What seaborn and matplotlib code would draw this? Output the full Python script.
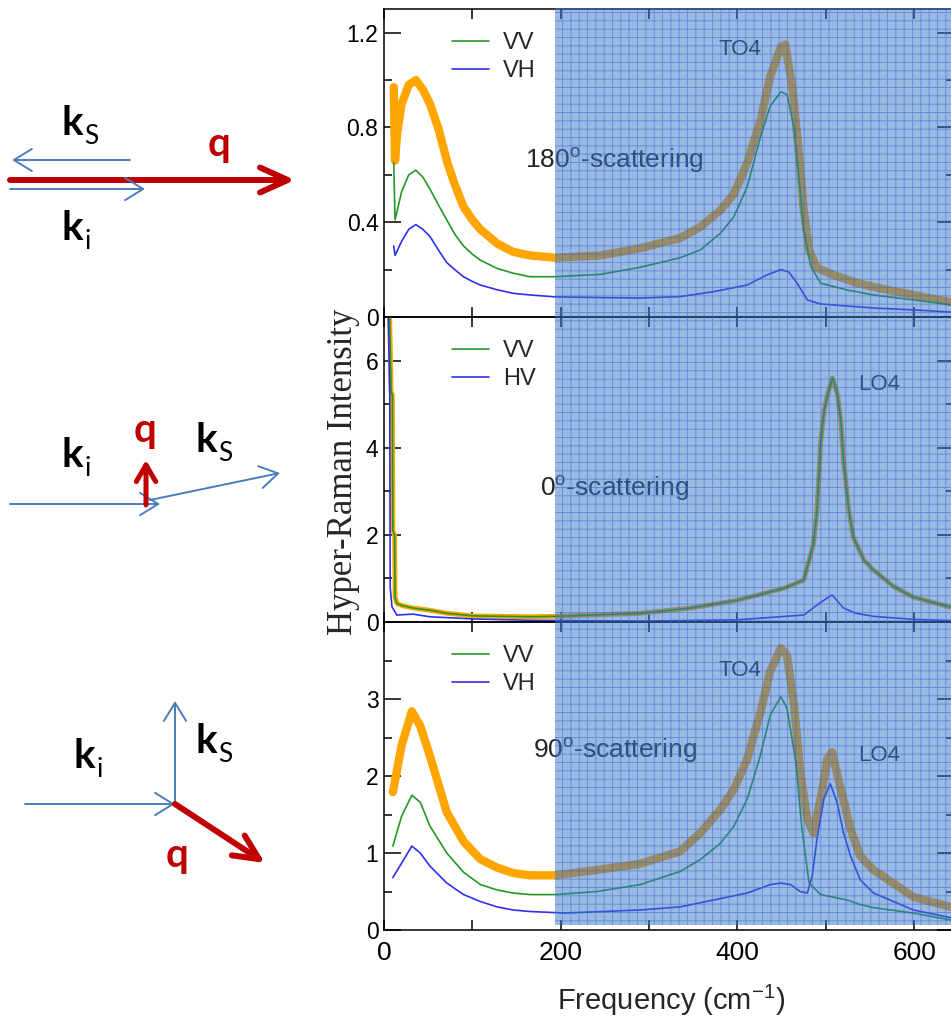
import numpy as np
import pandas as pd
import matplotlib
matplotlib.use("Agg")
import matplotlib.pyplot as plt
import seaborn as sns
from matplotlib.patches import Rectangle
from matplotlib.ticker import MultipleLocator, FixedLocator

# ---------------- data ----------------
# 180 degree scattering (top)
freq_180 = [11, 12.5, 15, 20, 28, 36, 44, 52, 62, 71, 80, 90, 100, 109, 128, 146, 165, 194,
            245, 290, 335, 358, 381, 396, 411, 426, 437, 449, 454, 462, 469.5, 475, 481, 490,
            509, 536, 554, 599, 645]
sum_180 = [0.97, 0.66, 0.78, 0.90, 0.98, 1.00, 0.96, 0.90, 0.79, 0.66, 0.56, 0.465, 0.41, 0.37,
           0.31, 0.275, 0.26, 0.25, 0.26, 0.29, 0.333, 0.38, 0.452, 0.52, 0.65, 0.83, 1.015,
           1.14, 1.15, 0.97, 0.69, 0.452, 0.283, 0.207, 0.177, 0.143, 0.127, 0.093, 0.06]
freq_180_vv = [11, 12.5, 15, 20, 28, 36, 44, 52, 62, 71, 80, 90, 100, 109, 128, 146, 165, 194,
               245, 290, 335, 358, 381, 396, 411, 426, 437, 449, 456, 464, 469.5, 475, 483, 494,
               524, 554, 599, 645]
vv_180 = [0.65, 0.41, 0.45, 0.53, 0.60, 0.62, 0.59, 0.54, 0.47, 0.41, 0.35, 0.30, 0.265, 0.24,
          0.205, 0.185, 0.17, 0.17, 0.18, 0.21, 0.25, 0.283, 0.355, 0.424, 0.55, 0.76, 0.89,
          0.95, 0.94, 0.80, 0.59, 0.37, 0.213, 0.143, 0.114, 0.093, 0.072, 0.05]
freq_180_vh = [11, 12.5, 15, 20, 28, 36, 44, 52, 62, 71, 80, 90, 100, 109, 128, 146, 165, 194,
               245, 290, 335, 373, 411, 433, 449, 458, 467.5, 479, 494, 532, 554, 599, 645]
vh_180 = [0.30, 0.26, 0.28, 0.32, 0.37, 0.39, 0.37, 0.34, 0.28, 0.23, 0.20, 0.17, 0.15, 0.135,
          0.115, 0.10, 0.093, 0.085, 0.082, 0.08, 0.086, 0.107, 0.135, 0.177, 0.20, 0.19,
          0.143, 0.072, 0.055, 0.044, 0.038, 0.03, 0.02]

# 0 degree scattering (middle)
freq_0 = [6, 8, 9.5, 10, 12, 12.5, 14.5, 20, 33, 52, 71, 101, 165, 194, 290, 347, 400, 452,
          475, 486, 490, 494, 498, 502, 507.6, 513, 517, 520, 526, 531, 543, 554, 577, 599, 645]
sum_0 = [7.5, 5.3, 5.2, 2.1, 2.0, 0.57, 0.43, 0.38, 0.32, 0.27, 0.20, 0.14, 0.12, 0.13, 0.20,
         0.32, 0.50, 0.77, 0.96, 1.80, 2.56, 4.10, 4.85, 5.23, 5.60, 5.23, 4.62, 3.70, 2.56,
         1.95, 1.42, 1.19, 0.81, 0.57, 0.32]
vv_0 = [7.5, 5.3, 5.2, 2.1, 2.0, 0.57, 0.43, 0.38, 0.32, 0.27, 0.20, 0.14, 0.12, 0.13, 0.20,
        0.32, 0.50, 0.77, 0.96, 1.80, 2.56, 4.10, 4.85, 5.23, 5.60, 5.23, 4.62, 3.70, 2.56,
        1.95, 1.42, 1.19, 0.81, 0.57, 0.32]
freq_0_hv = [4.5, 6.5, 7, 9, 14.5, 33, 52, 101, 165, 290, 400, 475, 494, 507, 520, 534, 554,
             599, 645]
hv_0 = [7.5, 5.2, 0.8, 0.35, 0.16, 0.18, 0.12, 0.07, 0.04, 0.02, 0.05, 0.16, 0.45, 0.62, 0.32,
        0.20, 0.13, 0.06, 0.03]

# 90 degree scattering (bottom)
freq_90 = [10, 20, 31.5, 41, 52, 71, 90, 109, 128, 146, 165, 194, 241, 290, 335, 358, 381,
           396, 411, 426, 437, 449, 456, 464, 471, 479, 486, 494, 501.6, 507, 516, 528, 539,
           554, 599, 641]
sum_90 = [1.79, 2.40, 2.84, 2.65, 2.26, 1.53, 1.15, 0.92, 0.81, 0.74, 0.71, 0.71, 0.78, 0.86,
          1.02, 1.26, 1.57, 1.83, 2.22, 2.83, 3.36, 3.66, 3.57, 2.92, 2.05, 1.44, 1.26, 1.70,
          2.22, 2.31, 1.87, 1.31, 0.96, 0.78, 0.43, 0.30]
freq_90_vv = [10, 20, 31.5, 41, 52, 71, 90, 109, 128, 146, 165, 194, 241, 290, 335, 358, 381,
              396, 411, 426, 437, 449, 456, 466, 473, 481, 494, 524, 539, 554, 599, 641]
vv_90 = [1.09, 1.48, 1.75, 1.66, 1.35, 1.00, 0.75, 0.59, 0.52, 0.48, 0.46, 0.46, 0.50, 0.59,
         0.76, 0.915, 1.13, 1.35, 1.70, 2.27, 2.79, 3.03, 2.88, 2.18, 1.31, 0.61, 0.46, 0.39,
         0.33, 0.29, 0.22, 0.13]
freq_90_vh = [10, 20, 31.5, 41, 52, 71, 90, 109, 128, 146, 165, 205, 290, 335, 373, 411, 437,
              449, 460, 471, 479, 484.5, 490, 497.6, 505, 512.6, 520, 528, 539, 554, 599, 641]
vh_90 = [0.68, 0.87, 1.09, 1.00, 0.83, 0.61, 0.46, 0.37, 0.30, 0.26, 0.24, 0.22, 0.26, 0.30,
         0.39, 0.48, 0.59, 0.61, 0.59, 0.50, 0.48, 0.70, 1.18, 1.70, 1.90, 1.66, 1.26, 0.96,
         0.65, 0.48, 0.26, 0.16]

legend_labels = [["VV", "VH"], ["VV", "HV"], ["VV", "VH"]]
scatter_labels = [r"180$^\mathrm{o}$-scattering", r"0$^\mathrm{o}$-scattering",
                  r"90$^\mathrm{o}$-scattering"]
x_ticks = [0, 200, 400, 600]

# ---------------- style ----------------
sns.set_style("ticks")
plt.rcParams['font.family'] = ['Liberation Sans', 'DejaVu Sans']
plt.rcParams['mathtext.fontset'] = 'custom'
plt.rcParams['mathtext.rm'] = 'Liberation Sans'
plt.rcParams['mathtext.it'] = 'Liberation Sans:italic'
plt.rcParams['mathtext.bf'] = 'Liberation Sans:bold'
plt.rcParams['hatch.linewidth'] = 0.7

ORANGE = '#ffa500'
GREEN = '#229a22'
BLUE = '#2f2ff0'

fig = plt.figure(figsize=(9.51, 10.25), dpi=100)

left = 384 / 951
width = (954 - 384) / 951
H = 1025
boxes = [(1 - 317 / H, (317 - 9) / H),
         (1 - 622 / H, (622 - 317) / H),
         (1 - 930 / H, (930 - 622) / H)]

panels = [
    dict(x_sum=freq_180, y_sum=sum_180, x_vv=freq_180_vv, y_vv=vv_180, x_b=freq_180_vh,
         y_b=vh_180, ylim=(0, 1.3), major=[0, 0.4, 0.8, 1.2], minor=0.2, lw_sum=6.0,
         ylabels=["0", "0.4", "0.8", "1.2"]),
    dict(x_sum=freq_0, y_sum=sum_0, x_vv=freq_0, y_vv=vv_0, x_b=freq_0_hv, y_b=hv_0,
         ylim=(0, 7.0), major=[0, 2, 4, 6], minor=1, lw_sum=3.5,
         ylabels=["0", "2", "4", "6"]),
    dict(x_sum=freq_90, y_sum=sum_90, x_vv=freq_90_vv, y_vv=vv_90, x_b=freq_90_vh, y_b=vh_90,
         ylim=(0, 4.0), major=[0, 1, 2, 3], minor=0.5, lw_sum=6.0,
         ylabels=["0", "1", "2", "3"]),
]

axes = []
for i, (p, (b, h)) in enumerate(zip(panels, boxes)):
    ax = fig.add_axes([left, b, width, h])
    axes.append(ax)
    sns.lineplot(x=p['x_sum'], y=p['y_sum'], ax=ax, color=ORANGE, lw=p['lw_sum'],
                 sort=False, estimator=None)
    sns.lineplot(x=p['x_vv'], y=p['y_vv'], ax=ax, color=GREEN, lw=1.2,
                 sort=False, estimator=None, label=legend_labels[i][0])
    sns.lineplot(x=p['x_b'], y=p['y_b'], ax=ax, color=BLUE, lw=1.2,
                 sort=False, estimator=None, label=legend_labels[i][1])
    ax.set_xlim(0, 645)
    ax.set_ylim(*p['ylim'])
    ax.xaxis.set_major_locator(FixedLocator(x_ticks))
    ax.xaxis.set_minor_locator(MultipleLocator(100))
    ax.yaxis.set_major_locator(FixedLocator(p['major']))
    ax.set_yticklabels(p['ylabels'])
    ax.yaxis.set_minor_locator(MultipleLocator(p['minor']))
    ax.tick_params(axis='both', which='both', direction='in', top=True, right=True,
                   width=1.1, colors='black')
    ax.tick_params(axis='y', which='major', length=12, labelsize=16.5, pad=4)
    ax.tick_params(axis='y', which='minor', length=6)
    ax.tick_params(axis='x', which='major', length=7.5, labelsize=19, pad=8)
    ax.tick_params(axis='x', which='minor', length=7.5)
    if i < 2:
        ax.set_xticklabels([])
    for s in ax.spines.values():
        s.set_linewidth(1.1)
        s.set_color('black')
    ax.set_xlabel('')
    ax.set_ylabel('')
    handles, labels = ax.get_legend_handles_labels()
    ax.legend(handles, labels, loc='upper left', bbox_to_anchor=(0.12, 0.925),
              frameon=False, fontsize=17, handlelength=1.55, handletextpad=0.6,
              labelspacing=0.25, borderpad=0, borderaxespad=0)
    ax.patch.set_alpha(0)

# annotations
axes[0].text(159, 0.66, scatter_labels[0], fontsize=19, va='center', ha='left')
axes[0].text(378, 1.13, "TO4", fontsize=16, va='center', ha='left')
axes[1].text(177, 3.06, scatter_labels[1], fontsize=19, va='center', ha='left')
axes[1].text(536, 5.46, "LO4", fontsize=16, va='center', ha='left')
axes[2].text(169, 2.33, scatter_labels[2], fontsize=19, va='center', ha='left')
axes[2].text(378, 3.37, "TO4", fontsize=16, va='center', ha='left')
axes[2].text(536, 2.26, "LO4", fontsize=16, va='center', ha='left')

fig.text(343 / 951, 1 - 472 / H, "Hyper-Raman Intensity", rotation=90, ha='center',
         va='center', family=['Liberation Serif', 'DejaVu Serif'], fontsize=25)
fig.text(671 / 951, 1 - 1000 / H, r"Frequency (cm$^{-1}$)", ha='center', va='center',
         fontsize=21)

# blue hatched overlay
ov = Rectangle((555 / 951, 1 - 925 / H), 1 - 555 / 951, (925 - 8) / H,
               transform=fig.transFigure, facecolor=(0.22, 0.46, 0.80, 0.5),
               edgecolor=(0.20, 0.40, 0.75, 0.5), hatch='++', lw=0, zorder=10)
fig.patches.append(ov)

# ---------------- scattering geometry diagrams ----------------
dax = fig.add_axes([0, 0, 1, 1], zorder=-1)
dax.set_xlim(0, 951)
dax.set_ylim(H, 0)
dax.axis('off')
KBLUE = '#4a7ebb'
KRED = '#c00000'
blue_style = '->,head_length=1.3,head_width=0.8'


def arrow(start, end, color, lw, style):
    dax.annotate('', xy=end, xytext=start,
                 arrowprops=dict(arrowstyle=style, color=color, lw=lw,
                                 shrinkA=0, shrinkB=0, mutation_scale=10))


def klabel(x, y, sub):
    dax.text(x, y, 'k', fontsize=29, fontweight='bold', family=['Lato', 'DejaVu Sans'],
             ha='left', va='baseline', color='black')
    dax.text(x + 23, y + 9, sub, fontsize=19, family=['Lato', 'DejaVu Sans'],
             ha='left', va='baseline', color='black')


def qlabel(x, y):
    dax.text(x, y, 'q', fontsize=29, fontweight='bold', family=['Lato', 'DejaVu Sans'],
             ha='left', va='baseline', color=KRED)


# 180 degrees
arrow((130, 160), (12, 160), KBLUE, 1.4, blue_style)
arrow((10, 180), (295, 180), KRED, 4.3, '->,head_length=2.0,head_width=0.9')
arrow((10, 189), (145, 189), KBLUE, 1.4, blue_style)
klabel(61, 135, 'S')
qlabel(208, 156)
klabel(61, 240, 'i')

# 0 degrees
arrow((10, 504), (160, 504), KBLUE, 1.4, blue_style)
arrow((150, 500), (280, 473), KBLUE, 1.4, blue_style)
arrow((146, 505), (146, 460), KRED, 3.6, '->,head_length=1.2,head_width=0.7')
klabel(61, 467, 'i')
qlabel(134, 442)
klabel(195, 452, 'S')

# 90 degrees
arrow((25, 804), (175, 804), KBLUE, 1.4, blue_style)
arrow((175, 804), (175, 701), KBLUE, 1.4, blue_style)
arrow((175, 804), (265, 863), KRED, 4.3, '->,head_length=1.8,head_width=0.85')
klabel(74, 768, 'i')
klabel(195, 753, 'S')
qlabel(166, 867)

fig.savefig('out.png', dpi=100)
